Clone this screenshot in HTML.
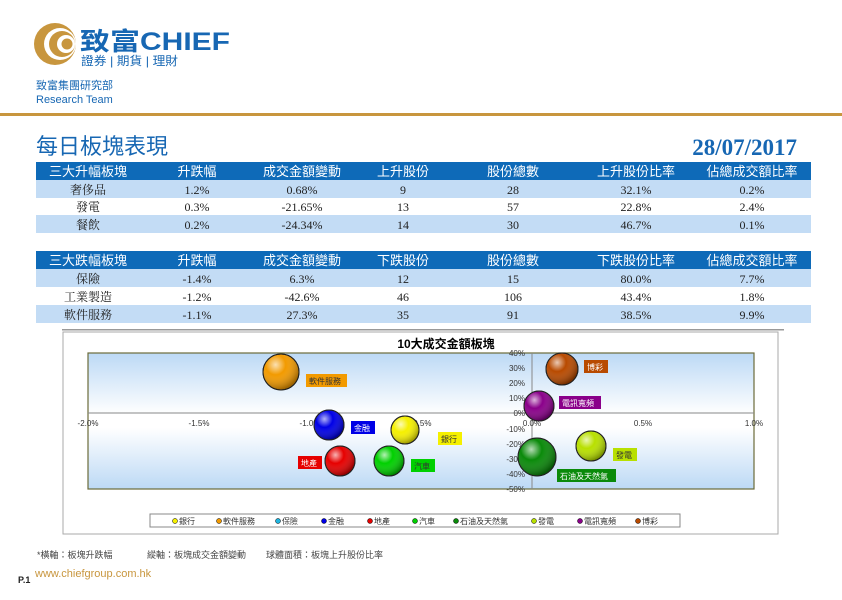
<!DOCTYPE html>
<html><head><meta charset="utf-8"><style>
body{margin:0;width:842px;height:595px;background:#fff;overflow:hidden}
svg text{font-family:"Liberation Sans","Noto Sans CJK TC",sans-serif}
.s{font-family:"Liberation Serif","Noto Serif CJK SC",serif!important}
</style></head><body>
<svg width="842" height="595" viewBox="0 0 842 595" xmlns="http://www.w3.org/2000/svg">
<defs>
<linearGradient id="bg" x1="0" y1="0" x2="0" y2="1">
<stop offset="0" stop-color="#bcd9f5"/><stop offset="0.45" stop-color="#ffffff"/><stop offset="0.55" stop-color="#ffffff"/><stop offset="1" stop-color="#bcd9f5"/></linearGradient>
<radialGradient id="g" cx="0.35" cy="0.3" r="0.7"><stop offset="0" stop-color="#fff" stop-opacity="0.7"/><stop offset="0.4" stop-color="#fff" stop-opacity="0"/><stop offset="1" stop-color="#000" stop-opacity="0.35"/></radialGradient>
</defs>
<!-- logo -->
<circle cx="55" cy="44" r="21" fill="#c8963e"/>
<circle cx="60" cy="44" r="16" fill="#fff"/>
<circle cx="62" cy="44" r="13" fill="#c8963e"/>
<circle cx="66" cy="44" r="9" fill="#fff"/>
<circle cx="67" cy="44" r="5.5" fill="#c8963e"/>
<text x="80" y="50" font-size="25" font-weight="bold" fill="#1767b3" textLength="150" lengthAdjust="spacingAndGlyphs">致富CHIEF</text>
<text x="81" y="65" font-size="12" fill="#1767b3" textLength="97" lengthAdjust="spacingAndGlyphs">證券 | 期貨 | 理財</text>
<text x="36" y="89" font-size="11" fill="#1767b3">致富集團研究部</text>
<text x="36" y="103" font-size="11" fill="#1767b3">Research Team</text>
<rect x="0" y="113" width="842" height="3" fill="#c8963e"/>
<text x="36" y="154" font-size="22" fill="#1767b3">每日板塊表現</text>
<text x="797" y="155" font-size="23" font-weight="bold" fill="#1767b3" text-anchor="end" class="s">28/07/2017</text>
<!-- table 1 -->
<g font-size="12" text-anchor="middle">
<rect x="36" y="162" width="775" height="18" fill="#0e6ab8"/>
<rect x="36" y="180" width="775" height="18" fill="#c3dcf5"/>
<rect x="36" y="215" width="775" height="18" fill="#c3dcf5"/>
<g fill="#fff" font-size="13"><text x="88" y="176">三大升幅板塊</text><text x="197" y="176">升跌幅</text><text x="302" y="176">成交金額變動</text><text x="403" y="176">上升股份</text><text x="513" y="176">股份總數</text><text x="636" y="176">上升股份比率</text><text x="752" y="176">佔總成交額比率</text></g>
<g fill="#222">
<text x="88" y="194" class="s">奢侈品</text><text x="197" y="194" class="s">1.2%</text><text x="302" y="194" class="s">0.68%</text><text x="403" y="194" class="s">9</text><text x="513" y="194" class="s">28</text><text x="636" y="194" class="s">32.1%</text><text x="752" y="194" class="s">0.2%</text>
<text x="88" y="211" class="s">發電</text><text x="197" y="211" class="s">0.3%</text><text x="302" y="211" class="s">-21.65%</text><text x="403" y="211" class="s">13</text><text x="513" y="211" class="s">57</text><text x="636" y="211" class="s">22.8%</text><text x="752" y="211" class="s">2.4%</text>
<text x="88" y="229" class="s">餐飲</text><text x="197" y="229" class="s">0.2%</text><text x="302" y="229" class="s">-24.34%</text><text x="403" y="229" class="s">14</text><text x="513" y="229" class="s">30</text><text x="636" y="229" class="s">46.7%</text><text x="752" y="229" class="s">0.1%</text>
</g>
<rect x="36" y="251" width="775" height="18" fill="#0e6ab8"/>
<rect x="36" y="269" width="775" height="18" fill="#c3dcf5"/>
<rect x="36" y="305" width="775" height="18" fill="#c3dcf5"/>
<g fill="#fff" font-size="13"><text x="88" y="265">三大跌幅板塊</text><text x="197" y="265">升跌幅</text><text x="302" y="265">成交金額變動</text><text x="403" y="265">下跌股份</text><text x="513" y="265">股份總數</text><text x="636" y="265">下跌股份比率</text><text x="752" y="265">佔總成交額比率</text></g>
<g fill="#222">
<text x="88" y="283" class="s">保險</text><text x="197" y="283" class="s">-1.4%</text><text x="302" y="283" class="s">6.3%</text><text x="403" y="283" class="s">12</text><text x="513" y="283" class="s">15</text><text x="636" y="283" class="s">80.0%</text><text x="752" y="283" class="s">7.7%</text>
<text x="88" y="301" class="s">工業製造</text><text x="197" y="301" class="s">-1.2%</text><text x="302" y="301" class="s">-42.6%</text><text x="403" y="301" class="s">46</text><text x="513" y="301" class="s">106</text><text x="636" y="301" class="s">43.4%</text><text x="752" y="301" class="s">1.8%</text>
<text x="88" y="319" class="s">軟件服務</text><text x="197" y="319" class="s">-1.1%</text><text x="302" y="319" class="s">27.3%</text><text x="403" y="319" class="s">35</text><text x="513" y="319" class="s">91</text><text x="636" y="319" class="s">38.5%</text><text x="752" y="319" class="s">9.9%</text>
</g>
</g>
<rect x="62" y="329" width="722" height="1.5" fill="#999"/>
<!-- chart -->
<rect x="63" y="332" width="715" height="202" fill="#fff" stroke="#aaa"/>
<text x="446" y="348" font-size="12" font-weight="bold" text-anchor="middle" fill="#000">10大成交金額板塊</text>
<rect x="88" y="353" width="666" height="136" fill="url(#bg)" stroke="#6b6b3a" stroke-width="1.2"/>
<line x1="88" y1="413" x2="754" y2="413" stroke="#888"/>
<line x1="532" y1="353" x2="532" y2="489" stroke="#888"/>
<g font-size="8" fill="#333" text-anchor="middle">
<text x="88" y="426">-2.0%</text><text x="199" y="426">-1.5%</text><text x="310" y="426">-1.0%</text><text x="421" y="426">-0.5%</text><text x="532" y="426">0.0%</text><text x="643" y="426">0.5%</text><text x="754" y="426">1.0%</text>
</g>
<g font-size="8" fill="#333" text-anchor="end">
<text x="525" y="356">40%</text><text x="525" y="371">30%</text><text x="525" y="386">20%</text><text x="525" y="401">10%</text><text x="525" y="416">0%</text><text x="525" y="432">-10%</text><text x="525" y="447">-20%</text><text x="525" y="462">-30%</text><text x="525" y="477">-40%</text><text x="525" y="492">-50%</text>
</g>
<g stroke="#222" stroke-width="1">
<circle cx="281" cy="372" r="18" fill="#f29a00"/><circle cx="281" cy="372" r="18" fill="url(#g)"/>
<circle cx="329" cy="425" r="15" fill="#0000e6"/><circle cx="329" cy="425" r="15" fill="url(#g)"/>
<circle cx="405" cy="430" r="14" fill="#f5f000"/><circle cx="405" cy="430" r="14" fill="url(#g)"/>
<circle cx="340" cy="461" r="15" fill="#e60000"/><circle cx="340" cy="461" r="15" fill="url(#g)"/>
<circle cx="389" cy="461" r="15" fill="#00d000"/><circle cx="389" cy="461" r="15" fill="url(#g)"/>
<circle cx="562" cy="369" r="16" fill="#b84a00"/><circle cx="562" cy="369" r="16" fill="url(#g)"/>
<circle cx="539" cy="406" r="15" fill="#8a008a"/><circle cx="539" cy="406" r="15" fill="url(#g)"/>
<circle cx="537" cy="457" r="19" fill="#0a8a0a"/><circle cx="537" cy="457" r="19" fill="url(#g)"/>
<circle cx="591" cy="446" r="15" fill="#b8e000"/><circle cx="591" cy="446" r="15" fill="url(#g)"/>
</g>
<g font-size="8">
<rect x="306" y="374" width="41" height="13" fill="#f29a00"/><text x="309" y="384" fill="#333">軟件服務</text>
<rect x="351" y="421" width="24" height="13" fill="#0000e6"/><text x="354" y="431" fill="#fff">金融</text>
<rect x="438" y="432" width="24" height="13" fill="#f5f000"/><text x="441" y="442" fill="#333">銀行</text>
<rect x="298" y="456" width="24" height="13" fill="#e60000"/><text x="301" y="466" fill="#fff">地產</text>
<rect x="411" y="459" width="24" height="13" fill="#00d000"/><text x="414" y="469" fill="#333">汽車</text>
<rect x="584" y="360" width="24" height="13" fill="#b84a00"/><text x="587" y="370" fill="#fff">博彩</text>
<rect x="559" y="396" width="42" height="13" fill="#8a008a"/><text x="562" y="406" fill="#fff">電訊寬頻</text>
<rect x="557" y="469" width="59" height="13" fill="#0a8a0a"/><text x="560" y="479" fill="#fff">石油及天然氣</text>
<rect x="613" y="448" width="24" height="13" fill="#b8e000"/><text x="616" y="458" fill="#333">發電</text>
</g>
<rect x="150" y="514" width="530" height="13" fill="#fff" stroke="#888"/>
<g font-size="8" fill="#333">
<circle cx="175" cy="521" r="2.5" fill="#f5f000" stroke="#000" stroke-width="0.5"/><text x="179" y="524">銀行</text>
<circle cx="219" cy="521" r="2.5" fill="#f29a00" stroke="#000" stroke-width="0.5"/><text x="223" y="524">軟件服務</text>
<circle cx="278" cy="521" r="2.5" fill="#1fb5e0" stroke="#000" stroke-width="0.5"/><text x="282" y="524">保險</text>
<circle cx="324" cy="521" r="2.5" fill="#0000e6" stroke="#000" stroke-width="0.5"/><text x="328" y="524">金融</text>
<circle cx="370" cy="521" r="2.5" fill="#e60000" stroke="#000" stroke-width="0.5"/><text x="374" y="524">地產</text>
<circle cx="415" cy="521" r="2.5" fill="#00d000" stroke="#000" stroke-width="0.5"/><text x="419" y="524">汽車</text>
<circle cx="456" cy="521" r="2.5" fill="#0a8a0a" stroke="#000" stroke-width="0.5"/><text x="460" y="524">石油及天然氣</text>
<circle cx="534" cy="521" r="2.5" fill="#b8e000" stroke="#000" stroke-width="0.5"/><text x="538" y="524">發電</text>
<circle cx="580" cy="521" r="2.5" fill="#8a008a" stroke="#000" stroke-width="0.5"/><text x="584" y="524">電訊寬頻</text>
<circle cx="638" cy="521" r="2.5" fill="#b84a00" stroke="#000" stroke-width="0.5"/><text x="642" y="524">博彩</text>
</g>
<text x="37" y="558" font-size="9" fill="#444">*橫軸：板塊升跌幅</text>
<text x="147" y="558" font-size="9" fill="#444">縱軸：板塊成交金額變動</text>
<text x="266" y="558" font-size="9" fill="#444">球體面積：板塊上升股份比率</text>
<text x="18" y="583" font-size="9" font-weight="bold" fill="#222">P.1</text>
<text x="35" y="577" font-size="11" fill="#c8963e">www.chiefgroup.com.hk</text>
</svg>
</body></html>
